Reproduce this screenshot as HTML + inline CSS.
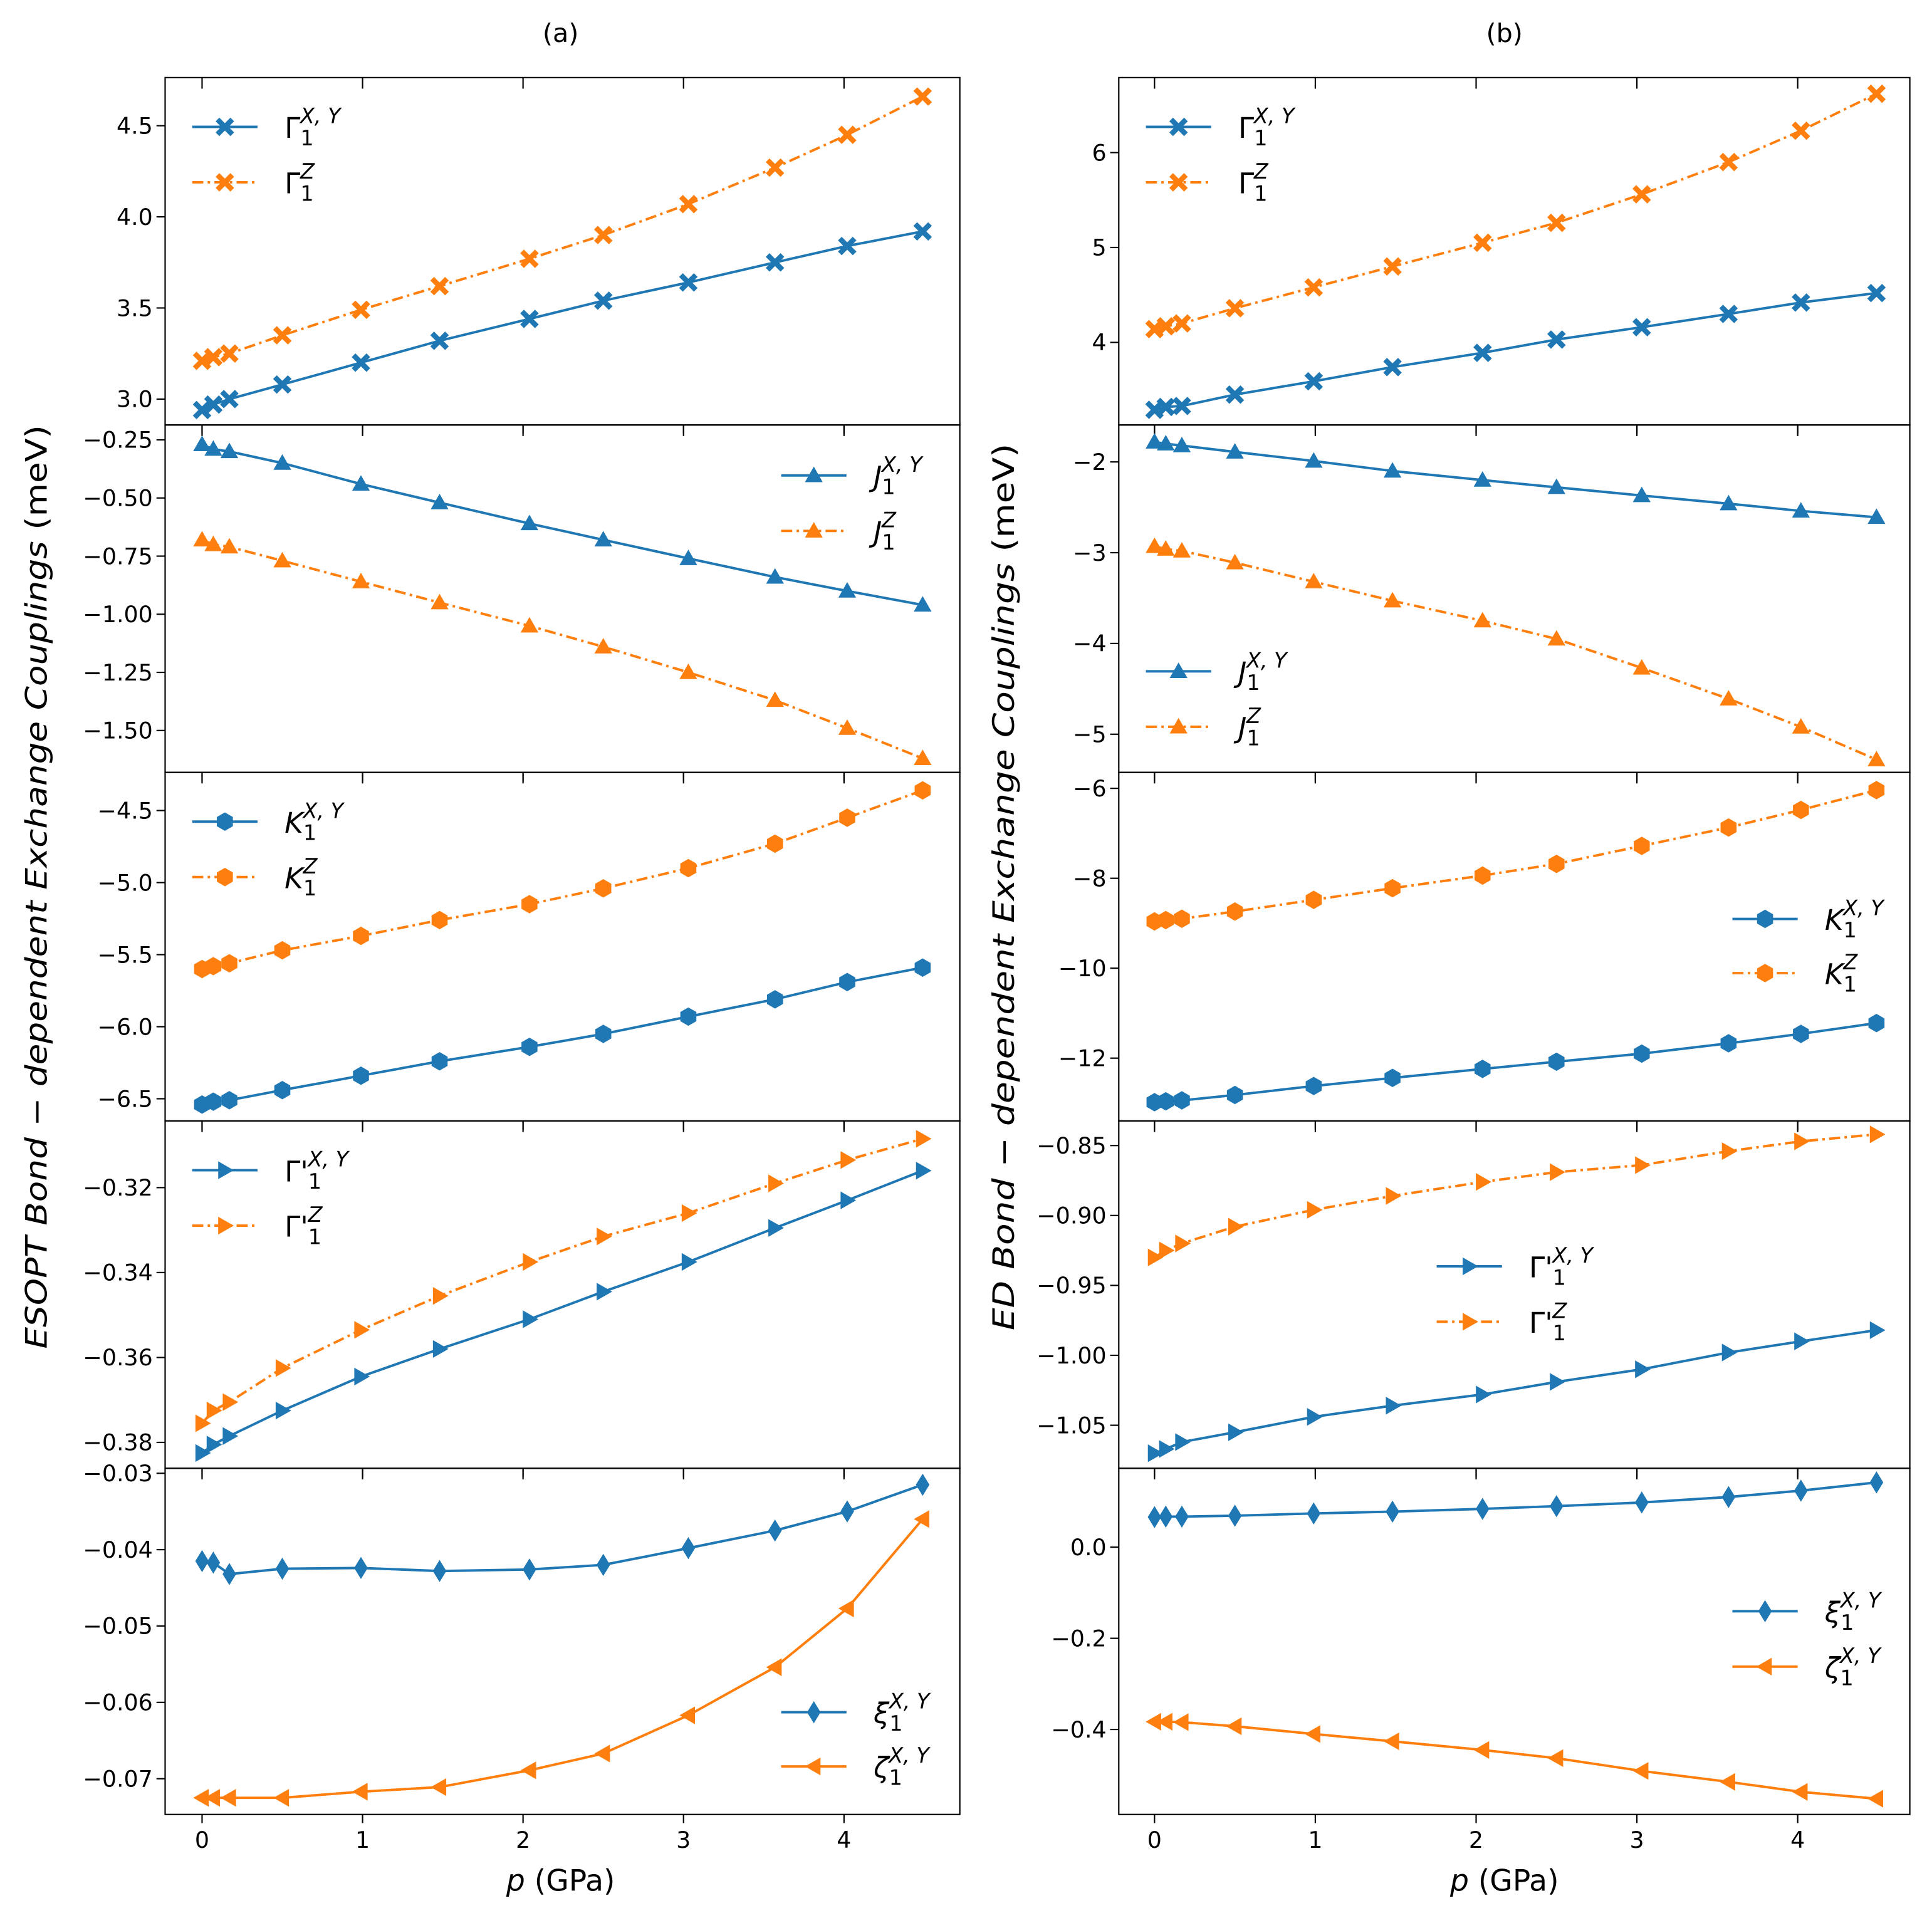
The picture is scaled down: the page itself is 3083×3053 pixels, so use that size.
<!DOCTYPE html>
<html><head><meta charset="utf-8">
<style>html,body{margin:0;padding:0;background:#fff}svg{display:block}text{font-family:"DejaVu Sans","Liberation Sans",sans-serif}</style>
</head><body>
<svg id="chart" width="3083" height="3053" viewBox="0 0 1568 1553" preserveAspectRatio="none" xmlns="http://www.w3.org/2000/svg"></svg>
<script>
const pressures=[0,0.07,0.17,0.5,0.99,1.48,2.04,2.5,3.03,3.57,4.02,4.49];
const a1XY=[2.94,2.97,3.0,3.08,3.2,3.32,3.44,3.54,3.64,3.75,3.84,3.92];
const a1Z=[3.21,3.23,3.25,3.35,3.49,3.62,3.77,3.90,4.07,4.27,4.45,4.66];
const a2XY=[-0.27,-0.29,-0.30,-0.35,-0.44,-0.52,-0.61,-0.68,-0.76,-0.84,-0.90,-0.96];
const a2Z=[-0.68,-0.70,-0.71,-0.77,-0.86,-0.95,-1.05,-1.14,-1.25,-1.37,-1.49,-1.62];
const a3XY=[-6.54,-6.52,-6.51,-6.44,-6.34,-6.24,-6.14,-6.05,-5.93,-5.81,-5.69,-5.59];
const a3Z=[-5.60,-5.58,-5.56,-5.47,-5.37,-5.26,-5.15,-5.04,-4.90,-4.73,-4.55,-4.36];
const a4XY=[-0.3825,-0.3805,-0.3785,-0.3725,-0.3645,-0.358,-0.351,-0.3445,-0.3375,-0.3295,-0.323,-0.316];
const a4Z=[-0.3755,-0.3725,-0.3705,-0.3625,-0.3535,-0.3455,-0.3375,-0.3315,-0.326,-0.319,-0.3135,-0.3085];
const a5Xi=[-0.0415,-0.0417,-0.0432,-0.0425,-0.0424,-0.0428,-0.0426,-0.0420,-0.0398,-0.0375,-0.0350,-0.0315];
const a5Zeta=[-0.0725,-0.0725,-0.0725,-0.0725,-0.0717,-0.0711,-0.0689,-0.0667,-0.0617,-0.0554,-0.0477,-0.0360];
const b1XY=[3.29,3.32,3.33,3.45,3.59,3.74,3.89,4.03,4.16,4.30,4.42,4.52];
const b1Z=[4.14,4.17,4.20,4.36,4.58,4.80,5.05,5.26,5.56,5.90,6.23,6.62];
const b2XY=[-1.78,-1.80,-1.82,-1.89,-1.99,-2.10,-2.20,-2.28,-2.37,-2.46,-2.54,-2.61];
const b2Z=[-2.93,-2.96,-2.98,-3.11,-3.32,-3.53,-3.75,-3.95,-4.27,-4.61,-4.92,-5.28];
const b3XY=[-12.98,-12.96,-12.94,-12.82,-12.62,-12.44,-12.24,-12.08,-11.90,-11.67,-11.46,-11.22];
const b3Z=[-8.96,-8.93,-8.90,-8.74,-8.48,-8.22,-7.94,-7.68,-7.28,-6.87,-6.48,-6.04];
const b4XY=[-1.070,-1.067,-1.062,-1.055,-1.044,-1.036,-1.028,-1.019,-1.010,-0.998,-0.990,-0.982];
const b4Z=[-0.930,-0.925,-0.920,-0.908,-0.896,-0.886,-0.876,-0.869,-0.864,-0.854,-0.847,-0.842];
const b5Xi=[0.066,0.067,0.067,0.069,0.074,0.078,0.084,0.090,0.098,0.110,0.124,0.142];
const b5Zeta=[-0.383,-0.383,-0.384,-0.393,-0.410,-0.426,-0.445,-0.463,-0.491,-0.515,-0.537,-0.552];
const xTicks=[0,1,2,3,4];
const a1Ticks=[3.0,3.5,4.0,4.5],a2Ticks=[-0.25,-0.5,-0.75,-1.0,-1.25,-1.5],a3Ticks=[-4.5,-5.0,-5.5,-6.0,-6.5],a4Ticks=[-0.32,-0.34,-0.36,-0.38],a5Ticks=[-0.03,-0.04,-0.05,-0.06,-0.07];
const b1Ticks=[4,5,6],b2Ticks=[-2,-3,-4,-5],b3Ticks=[-6,-8,-10,-12],b4Ticks=[-0.85,-0.9,-0.95,-1.0,-1.05],b5Ticks=[0.0,-0.2,-0.4];

const NS="http://www.w3.org/2000/svg";
const svg=document.getElementById('chart');
const BLUE="#1f77b4",ORANGE="#ff7f0e";
function el(tag,attrs,parent){const e=document.createElementNS(NS,tag);for(const k in attrs)e.setAttribute(k,attrs[k]);(parent||svg).appendChild(e);return e;}
function fmt(v,d){return (v<0?"\u2212":"")+Math.abs(v).toFixed(d);}

function marker(g,type,x,y,c){
  let m;const r=7.2;
  if(type==="X"){const a=3.0,b=7.5;
    const pts=[[-b,-b+a],[-b+a,-b],[0,-a],[b-a,-b],[b,-b+a],[a,0],[b,b-a],[b-a,b],[0,a],[-b+a,b],[-b,b-a],[-a,0]];
    m=el('polygon',{points:pts.map(p=>(x+p[0])+","+(y+p[1])).join(" "),fill:c},g);}
  else if(type==="^"){m=el('polygon',{points:`${x},${y-r} ${x+r},${y+r*0.75} ${x-r},${y+r*0.75}`,fill:c},g);}
  else if(type===">"){m=el('polygon',{points:`${x+r},${y} ${x-r*0.75},${y-r} ${x-r*0.75},${y+r}`,fill:c},g);}
  else if(type==="<"){m=el('polygon',{points:`${x-r},${y} ${x+r*0.75},${y-r} ${x+r*0.75},${y+r}`,fill:c},g);}
  else if(type==="h"){let p=[];const rh=7.5;for(let i=0;i<6;i++){const a=Math.PI/6+i*Math.PI/3;p.push((x+rh*Math.cos(a))+","+(y+rh*Math.sin(a)));}m=el('polygon',{points:p.join(" "),fill:c},g);}
  else if(type==="d"){m=el('polygon',{points:`${x},${y-9} ${x+5.5},${y} ${x},${y+9} ${x-5.5},${y}`,fill:c},g);}
  return m;
}

function label(parent,x,y,sym,sup,prime,italic){
  const t=el('text',{x:x,y:y+9,'font-size':23,fill:'#000'},parent);
  const s=el('tspan',{'font-style':italic?'italic':'normal'},t);s.textContent=sym+(prime?"'":"");
  const sb=el('tspan',{dy:6,'font-size':17,'font-style':'normal'},t);sb.textContent="1";
  const sp=el('tspan',{dx:-11,dy:-18,'font-size':17,'font-style':'italic'},t);sp.textContent=sup;
  return t;
}

function panel(name,L,R,T,B,ymin,ymax,ticks,dec,series,legend,showX){
  const g=el('g',{});
  
  
  const xs=v=>(R===779?164:937)+v*(R===779?130.25:130.5);
  const ys=v=>B-(v-ymin)/(ymax-ymin)*(B-T);
  ticks.forEach(t=>{const y=ys(t);
    el('line',{x1:L-7,x2:L,y1:y,y2:y,stroke:'#000','stroke-width':1.1},g);
    const tx=el('text',{x:L-10,y:y+6.5,'text-anchor':'end','font-size':18.5},g);tx.textContent=fmt(t,dec);
    });
  xTicks.forEach(t=>{const x=xs(t);
    el('line',{x1:x,x2:x,y1:B,y2:B+7,stroke:'#000','stroke-width':1.1},g);
    el('line',{x1:x,x2:x,y1:T,y2:T+9,stroke:'#000','stroke-width':1.1},g);
    if(showX){const tx=el('text',{x:x,y:B+27,'text-anchor':'middle','font-size':18.5},g);tx.textContent=String(t);
      }});
  series.forEach(s=>{
    const sg=el('g',{},g);
    
    
    const pts=pressures.map((p,i)=>xs(p)+","+ys(s.vals[i])).join(" ");
    el('polyline',{points:pts,fill:'none',stroke:s.c,'stroke-width':2,'stroke-dasharray':s.dash?'9,3.5,2,3.5':'none'},sg);
    pressures.forEach((p,i)=>{const m=marker(sg,s.m,xs(p),ys(s.vals[i]),s.c);
      });
  });
  el('rect',{x:L,y:T,width:R-L,height:B-T,fill:'none',stroke:'#000','stroke-width':1.1},g);
  const lg=el('g',{},g);
  
  
  series.forEach((s,i)=>{const y=legend.y[i];
    const eg=el('g',{},lg);
    
    
    el('line',{x1:legend.x,x2:legend.x+53,y1:y,y2:y,stroke:s.c,'stroke-width':2,'stroke-dasharray':s.dash?'9,3.5,2,3.5':'none'},eg);
    marker(eg,s.m,legend.x+26.5,y,s.c);
    label(eg,legend.x+75,y,s.sym,s.sup,s.prime,s.it);
  });
}
const LA=[134,779],RB=[908,1550];
const rows=[[63,345],[345,627],[627,910],[910,1192],[1192,1473]];
function S(name,vals,c,dash,m,sym,sup,prime,it){return {name,vals,c,dash,m,sym,sup,prime,it};}
panel('panel-a-gamma',LA[0],LA[1],rows[0][0],rows[0][1],2.858,4.764,a1Ticks,1,
 [S('gamma-xy-line',a1XY,BLUE,false,'X','\u0393','X, Y',false,false),S('gamma-z-line',a1Z,ORANGE,true,'X','\u0393','Z',false,false)],{x:156,y:[103,148]},false);
panel('panel-a-j',LA[0],LA[1],rows[1][0],rows[1][1],-1.68,-0.186,a2Ticks,2,
 [S('j-xy-line',a2XY,BLUE,false,'^','J','X, Y',false,true),S('j-z-line',a2Z,ORANGE,true,'^','J','Z',false,true)],{x:634,y:[386,431]},false);
panel('panel-a-k',LA[0],LA[1],rows[2][0],rows[2][1],-6.654,-4.235,a3Ticks,1,
 [S('k-xy-line',a3XY,BLUE,false,'h','K','X, Y',false,true),S('k-z-line',a3Z,ORANGE,true,'h','K','Z',false,true)],{x:156,y:[667,712]},false);
panel('panel-a-gammaprime',LA[0],LA[1],rows[3][0],rows[3][1],-0.3861,-0.3043,a4Ticks,2,
 [S('gammaprime-xy-line',a4XY,BLUE,false,'>','\u0393','X, Y',true,false),S('gammaprime-z-line',a4Z,ORANGE,true,'>','\u0393','Z',true,false)],{x:156,y:[950,995]},false);
panel('panel-a-xi-zeta',LA[0],LA[1],rows[4][0],rows[4][1],-0.07468,-0.02935,a5Ticks,2,
 [S('xi-xy-line',a5Xi,BLUE,false,'d','\u03be','X, Y',false,true),S('zeta-xy-line',a5Zeta,ORANGE,false,'<','\u03b6','X, Y',false,true)],{x:634,y:[1390,1434]},true);
panel('panel-b-gamma',RB[0],RB[1],rows[0][0],rows[0][1],3.13,6.79,b1Ticks,0,
 [S('gamma-xy-line',b1XY,BLUE,false,'X','\u0393','X, Y',false,false),S('gamma-z-line',b1Z,ORANGE,true,'X','\u0393','Z',false,false)],{x:930,y:[103,148]},false);
panel('panel-b-j',RB[0],RB[1],rows[1][0],rows[1][1],-5.42,-1.593,b2Ticks,0,
 [S('j-xy-line',b2XY,BLUE,false,'^','J','X, Y',false,true),S('j-z-line',b2Z,ORANGE,true,'^','J','Z',false,true)],{x:930,y:[545,590]},false);
panel('panel-b-k',RB[0],RB[1],rows[2][0],rows[2][1],-13.397,-5.644,b3Ticks,0,
 [S('k-xy-line',b3XY,BLUE,false,'h','K','X, Y',false,true),S('k-z-line',b3Z,ORANGE,true,'h','K','Z',false,true)],{x:1406,y:[746,790]},false);
panel('panel-b-gammaprime',RB[0],RB[1],rows[3][0],rows[3][1],-1.0808,-0.8324,b4Ticks,2,
 [S('gammaprime-xy-line',b4XY,BLUE,false,'>','\u0393','X, Y',true,false),S('gammaprime-z-line',b4Z,ORANGE,true,'>','\u0393','Z',true,false)],{x:1166,y:[1028,1073]},false);
panel('panel-b-xi-zeta',RB[0],RB[1],rows[4][0],rows[4][1],-0.5865,0.173,b5Ticks,1,
 [S('xi-xy-line',b5Xi,BLUE,false,'d','\u03be','X, Y',false,true),S('zeta-xy-line',b5Zeta,ORANGE,false,'<','\u03b6','X, Y',false,true)],{x:1406,y:[1308,1353]},true);

function txt(name,x,y,s,attrs){const t=el('text',Object.assign({x:x,y:y,'font-size':21,'text-anchor':'middle'},attrs||{}));t.textContent=s;
  return t;}
txt('title-a',455,34,'(a)');
txt('title-b',1221,34,'(b)');
function xl(name,x){const t=el('text',{x:x,y:1535,'font-size':24,'text-anchor':'middle'});
  
  const a=el('tspan',{'font-style':'italic'},t);a.textContent='p';const b=el('tspan',{},t);b.textContent=' (GPa)';}
xl('x-axis-title-a',455);xl('x-axis-title-b',1221);
function yl(name,x,pre,len){const t=el('text',{x:0,y:0,'font-size':24,'text-anchor':'middle',textLength:len,lengthAdjust:'spacingAndGlyphs',transform:`translate(${x},720) rotate(-90)`});
  
  const a=el('tspan',{'font-style':'italic'},t);a.textContent=pre+' Bond \u2212 dependent Exchange Couplings';
  const b=el('tspan',{},t);b.textContent=' (meV)';}
yl('y-axis-title-a',38,'ESOPT',750);yl('y-axis-title-b',823,'ED',720);
</script>
</body></html>
